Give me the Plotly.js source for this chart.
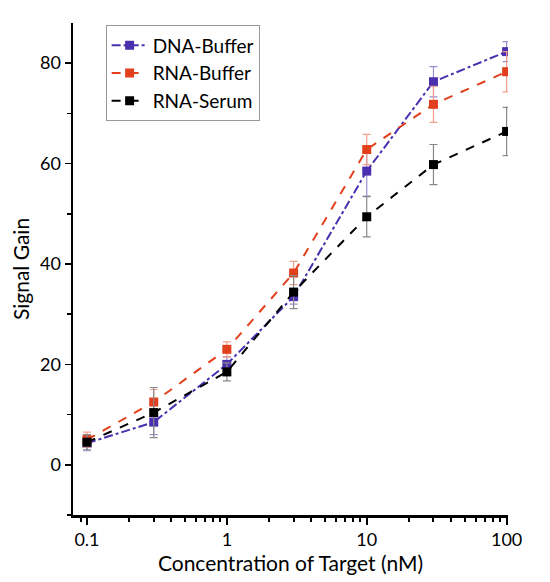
<!DOCTYPE html>
<html>
<head>
<meta charset="utf-8">
<script src="https://cdn.plot.ly/plotly-3.0.1.min.js"></script>
<style>html,body{margin:0;padding:0;background:#fff;}#chart{width:550px;height:582px;}</style>
</head>
<body>
<div id="chart"></div>
<script>
const concentrations = [0.1, 0.3, 1, 3, 10, 30, 100];
const dnaBuffer = [4.3, 8.5, 20, 33.5, 58.5, 76.3, 82.3];
const dnaBufferErr = [1.5, 2.5, 1.5, 1.5, 5, 3, 2];
const rnaBuffer = [5, 12.5, 23, 38.2, 62.8, 71.8, 78.3];
const rnaBufferErr = [1.5, 2.5, 1.5, 2.3, 3, 3.6, 4];
const rnaSerum = [4.5, 10.4, 18.5, 34.4, 49.4, 59.8, 66.4];
const rnaSerumErr = [1.5, 5, 1.8, 3.3, 4, 4, 4.8];
const seriesNames = ['DNA-Buffer', 'RNA-Buffer', 'RNA-Serum'];
const xTickVals = [0.1, 1, 10, 100];
const xTickText = ['0.1', '1', '10', '100'];
const xMinorVals = [0.09, 0.2, 0.3, 0.4, 0.5, 0.6, 0.7, 0.8, 0.9, 2, 3, 4, 5, 6, 7, 8, 9, 20, 30, 40, 50, 60, 70, 80, 90];
const yTickVals = [0, 20, 40, 60, 80];
const yMinorVals = [-10, 10, 30, 50, 70];

const fontFam = 'Lato, "Open Sans", sans-serif';

function trace(name, y, err, color, errColor, dash) {
  return {
    x: concentrations, y: y, name: name, type: 'scatter', mode: 'lines+markers',
    line: {color: color, width: 2, dash: dash},
    marker: {symbol: 'square', size: 9, color: color},
    error_y: {type: 'data', array: err, visible: true, color: errColor, thickness: 1.2, width: 4}
  };
}

const data = [
  trace(seriesNames[0], dnaBuffer, dnaBufferErr, '#4a2fae', '#9a8fd0', 'dashdot'),
  trace(seriesNames[1], rnaBuffer, rnaBufferErr, '#e2401c', '#f0a08a', 'dash'),
  trace(seriesNames[2], rnaSerum, rnaSerumErr, '#000000', '#888888', 'dash')
];

const layout = {
  width: 550, height: 582,
  margin: {l: 73, r: 42, t: 23, b: 67},
  paper_bgcolor: '#fff', plot_bgcolor: '#fff',
  font: {family: fontFam, color: '#000', size: 18},
  showlegend: true,
  legend: {
    x: 0.075, y: 0.995, xanchor: 'left', yanchor: 'top',
    bordercolor: '#999', borderwidth: 1, bgcolor: '#fff',
    font: {family: fontFam, size: 19, color: '#000'},
    tracegroupgap: 0, itemwidth: 36
  },
  xaxis: {
    type: 'log', range: [-1.1, 2.01],
    tickvals: xTickVals, ticktext: xTickText,
    ticks: 'outside', ticklen: 7, tickwidth: 2, tickcolor: '#000',
    minor: {tickvals: xMinorVals, ticks: 'outside', ticklen: 4, tickwidth: 2, tickcolor: '#000', showgrid: false},
    showline: true, linecolor: '#000', linewidth: 2.5,
    showgrid: false, zeroline: false,
    tickfont: {family: fontFam, size: 18},
    title: {text: 'Concentration of Target (nM)', font: {family: fontFam, size: 21}, standoff: 4}
  },
  yaxis: {
    range: [-10, 88],
    tickvals: yTickVals,
    ticks: 'outside', ticklen: 6, tickwidth: 1.5, tickcolor: '#000',
    minor: {tickvals: yMinorVals, ticks: 'outside', ticklen: 4, tickwidth: 1.5, tickcolor: '#000', showgrid: false},
    showline: true, linecolor: '#000', linewidth: 2.5,
    showgrid: false, zeroline: false,
    tickfont: {family: fontFam, size: 18},
    title: {text: 'Signal Gain', font: {family: fontFam, size: 21}, standoff: 5}
  }
};

Plotly.newPlot('chart', data, layout, {displayModeBar: false, staticPlot: true});
</script>
</body>
</html>
